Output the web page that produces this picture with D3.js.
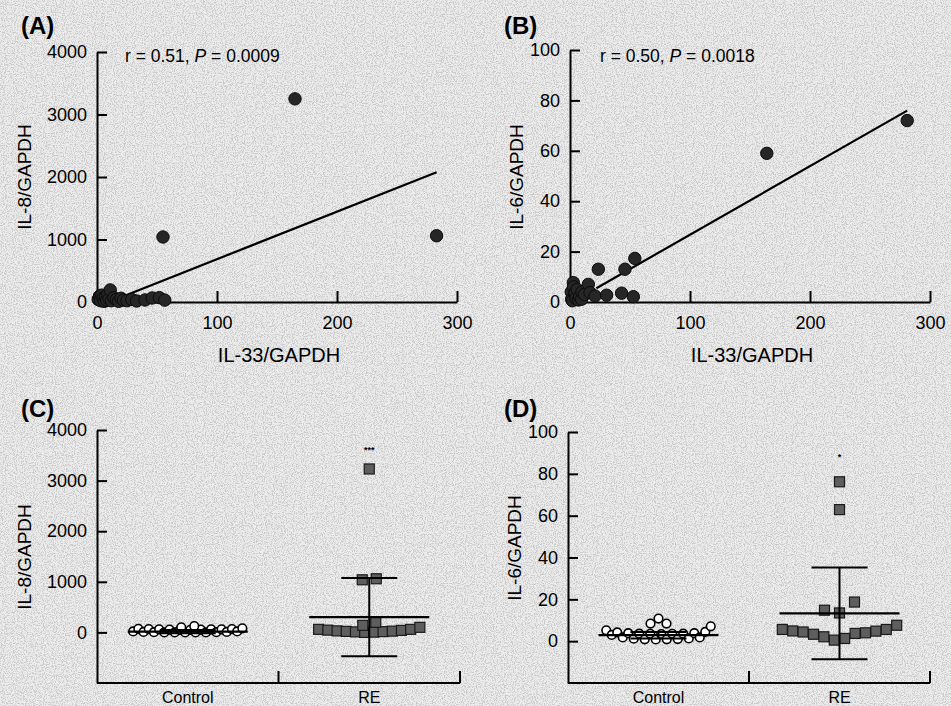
<!DOCTYPE html>
<html><head><meta charset="utf-8">
<script src="https://cdn.jsdelivr.net/npm/d3@7/dist/d3.min.js"></script>
<style>
html,body{margin:0;padding:0;background:#e8e8e8;}
svg{display:block;font-family:"Liberation Sans",Arial,sans-serif;}
</style></head>
<body>
<script>
// ---------- DATA ----------
// Panel A: IL-33/GAPDH vs IL-8/GAPDH
const aX = [1, 2, 2.5, 3, 4, 5, 6, 7, 8, 9, 10, 11, 12, 14, 16, 18, 20, 22, 25, 29, 33, 40, 46, 52, 56.5, 55, 165, 283];
const aY = [40, 90, 96, 20, 110, 60, 10, 80, 30, 120, 50, 193, 20, 70, 40, 10, 60, 30, 20, 40, 16, 32, 64, 70, 30, 1040, 3250, 1060];
const aFit = {slope: 7.6, intercept: -75, from: 20, to: 283};
const aText = {r: "0.51", p: "0.0009"};
// Panel B: IL-33/GAPDH vs IL-6/GAPDH
const bX = [1, 1.4, 2, 2.8, 3, 4, 4.2, 5, 6, 7, 8, 9.7, 10, 12, 15.3, 16.7, 20.8, 23.6, 30.5, 43, 45.8, 52.8, 54, 164, 281];
const bY = [4, 1.1, 0.5, 7.7, 6, 3, 3.7, 1.5, 5, 0.8, 2, 1.1, 4, 3, 7, 3.7, 2.4, 13, 2.7, 3.5, 13, 2.1, 17.3, 59, 72];
const bFit = {slope: 0.272, intercept: -0.5, from: 22, to: 281};
const bText = {r: "0.50", p: "0.0018"};
// Panel C: IL-8/GAPDH by group (rows of points, left to right)
const groups = ["Control", "RE"];
const cControlRows = [[20, 70, 10, 65, 5, 60, 0, 55, 0, 50, 0, 50, 0, 55, 0, 60, 5, 60, 10, 65, 20, 80], [100, 125]];
const cRERows = [[60, 45, 30, 20, 10, 0, 5, 15, 25, 40, 60, 100], [140, 200], [1040, 1060], [3230]];
const cMean = [15, 302];
const cSD = [30, 775];
const cSig = ["", "***"];
// Panel D: IL-6/GAPDH by group
const dControlRows = [[5.2, 3.0, 4.2, 1.8, 3.8, 1.2, 3.6, 0.9, 3.5, 0.8, 3.4, 0.9, 3.5, 1.0, 3.6, 1.3, 3.8, 1.8, 4.4, 7.1], [8.4, 10.8, 8.4]];
const dRERows = [[5.6, 4.9, 4.4, 3.3, 2.1, 0.5, 1.3, 3.7, 4.0, 4.8, 5.6, 7.6], [14.8, 13.5, 18.7], [62.9], [76.2]];
const dMean = [2.85, 13.3];
const dSD = [1.55, 21.9];
const dSig = ["", "*"];
// Tick labels
const abXTicks = [0, 100, 200, 300];
const aYTicks = [0, 1000, 2000, 3000, 4000];
const bYTicks = [0, 20, 40, 60, 80, 100];
const cYTicks = [0, 1000, 2000, 3000, 4000];
const dYTicks = [0, 20, 40, 60, 80, 100];

// ---------- DRAW ----------
const W = 951, H = 706;
const svg = d3.select("body").append("svg").attr("width", W).attr("height", H);
const defs = svg.append("defs");
const f = defs.append("filter").attr("id", "noise").attr("x", 0).attr("y", 0).attr("width", "100%").attr("height", "100%");
f.append("feTurbulence").attr("type", "fractalNoise").attr("baseFrequency", 0.9).attr("numOctaves", 2).attr("seed", 4);
f.append("feColorMatrix").attr("type", "matrix")
  .attr("values", "0 0 0 0 0.35  0 0 0 0 0.35  0 0 0 0 0.35  -5 0 0 0 2.7");
svg.append("rect").attr("width", W).attr("height", H).attr("fill", "#ececec");
svg.append("rect").attr("width", W).attr("height", H).attr("filter", "url(#noise)").attr("opacity", 0.45);

const FS_TICK = 18, FS_TITLE = 19;

function styleAxis(g) {
  g.selectAll("path, line").attr("stroke", "#000").attr("stroke-width", 2);
  g.selectAll("text").attr("font-size", FS_TICK).attr("fill", "#000")
    .attr("font-family", '"Liberation Sans", Arial, sans-serif');
}
function panelLabel(t, x, y) {
  svg.append("text").attr("x", x).attr("y", y).attr("font-size", 24).attr("font-weight", "bold").text(t);
}
function yTitle(t, x, y) {
  svg.append("text").attr("transform", `translate(${x},${y}) rotate(-90)`).attr("text-anchor", "middle")
    .attr("dy", "0.35em").attr("font-size", FS_TITLE).text(t);
}

function scatterPanel(o) {
  const x = d3.scaleLinear().domain([0, 300]).range([o.x0, o.x1]);
  const y = d3.scaleLinear().domain([0, o.yMax]).range([o.y0, o.y1]);
  const g = svg.append("g");
  g.append("g").attr("transform", `translate(0,${o.y0})`)
    .call(d3.axisBottom(x).tickValues(abXTicks).tickSizeInner(-11).tickSizeOuter(0).tickPadding(14).tickFormat(d3.format("d")))
    .call(styleAxis);
  g.append("g").attr("transform", `translate(${o.x0},0)`)
    .call(d3.axisLeft(y).tickValues(o.yTicks).tickSizeInner(-10).tickSizeOuter(0).tickPadding(10).tickFormat(d3.format("d")))
    .call(styleAxis);
  g.append("line")
    .attr("x1", x(o.fit.from)).attr("y1", y(o.fit.slope * o.fit.from + o.fit.intercept))
    .attr("x2", x(o.fit.to)).attr("y2", y(o.fit.slope * o.fit.to + o.fit.intercept))
    .attr("stroke", "#000").attr("stroke-width", 2.2);
  g.selectAll("circle.pt").data(d3.range(o.xs.length)).join("circle").attr("class", "pt")
    .attr("cx", i => x(o.xs[i])).attr("cy", i => y(o.ys[i])).attr("r", 6.2)
    .attr("fill", "#262626").attr("stroke", "#0a0a0a").attr("stroke-width", 1);
  const t = g.append("text").attr("x", o.tx).attr("y", o.ty).attr("font-size", 17.5);
  t.append("tspan").text(`r = ${o.txt.r}, `);
  t.append("tspan").attr("font-style", "italic").text("P");
  t.append("tspan").text(` = ${o.txt.p}`);
  g.append("text").attr("x", (o.x0 + o.x1) / 2 + 2).attr("y", 362).attr("text-anchor", "middle")
    .attr("font-size", FS_TITLE + 1).text("IL-33/GAPDH");
}

scatterPanel({x0: 97, x1: 457, y0: 302, y1: 52, yMax: 4000, yTicks: aYTicks, xs: aX, ys: aY, fit: aFit, txt: aText, tx: 125, ty: 62});
scatterPanel({x0: 570, x1: 930, y0: 302, y1: 50, yMax: 100, yTicks: bYTicks, xs: bX, ys: bY, fit: bFit, txt: bText, tx: 600, ty: 62});
panelLabel("(A)", 21, 34);
panelLabel("(B)", 504, 34);
yTitle("IL-8/GAPDH", 24, 177);
yTitle("IL-6/GAPDH", 516, 177);

function dotPanel(o) {
  const x = d3.scaleBand().domain(groups).range([o.x0, o.x1]).padding(0);
  const y = d3.scaleLinear().domain(o.yDom).range([o.yb, o.yt]);
  const g = svg.append("g");
  const bw = x.bandwidth();
  g.append("g").attr("transform", `translate(${o.x0},0)`)
    .call(d3.axisLeft(y).tickValues(o.yTicks).tickSizeInner(-10).tickSizeOuter(0).tickPadding(10).tickFormat(d3.format("d")))
    .call(styleAxis);
  g.append("line").attr("x1", o.x0).attr("x2", o.x1).attr("y1", o.yb).attr("y2", o.yb)
    .attr("stroke", "#000").attr("stroke-width", 2);
  groups.forEach(c => {
    g.append("line").attr("x1", x(c) + bw).attr("x2", x(c) + bw).attr("y1", o.yb).attr("y2", o.yb - 12)
      .attr("stroke", "#000").attr("stroke-width", 2);
    g.append("text").attr("x", x(c) + bw / 2).attr("y", 703).attr("text-anchor", "middle")
      .attr("font-size", 16).text(c);
  });
  const rowsets = [o.ctrlRows, o.reRows];
  groups.forEach((c, gi) => {
    const cx = x(c) + bw / 2;
    const m = o.mean[gi], s = o.sd[gi];
    const eb = g.append("g").attr("stroke", "#000");
    eb.append("line").attr("x1", cx).attr("x2", cx).attr("y1", y(m - s)).attr("y2", y(m + s)).attr("stroke-width", 2);
    [m - s, m + s].forEach(v => eb.append("line").attr("x1", cx - 28).attr("x2", cx + 28)
      .attr("y1", y(v)).attr("y2", y(v)).attr("stroke-width", 2));
    rowsets[gi].forEach((row, ri) => {
      const sp = o.spacing[gi][ri];
      row.forEach((v, i) => {
        const px = cx + (i - (row.length - 1) / 2) * sp;
        if (gi === 0) {
          g.append("circle").attr("cx", px).attr("cy", y(v)).attr("r", 4.3)
            .attr("fill", "#fff").attr("stroke", "#000").attr("stroke-width", 1.6);
        } else {
          g.append("rect").attr("x", px - 5).attr("y", y(v) - 5).attr("width", 10).attr("height", 10)
            .attr("fill", "#5e5e5e").attr("stroke", "#1a1a1a").attr("stroke-width", 1.2);
        }
      });
    });
    eb.raise();
    g.append("line").attr("x1", cx - 60).attr("x2", cx + 60).attr("y1", y(m)).attr("y2", y(m))
      .attr("stroke", "#000").attr("stroke-width", 2.2);
    if (o.sig[gi]) {
      g.append("text").attr("x", cx).attr("y", o.sigY).attr("text-anchor", "middle")
        .attr("font-size", 9).attr("font-weight", "bold").text(o.sig[gi]);
    }
  });
}

dotPanel({x0: 97, x1: 460, yb: 683, yt: 430, yDom: [-1000, 4000], yTicks: cYTicks,
  ctrlRows: cControlRows, reRows: cRERows, mean: cMean, sd: cSD, sig: cSig, sigY: 453,
  spacing: [[5.2, 13], [9.2, 13, 14, 0]]});
dotPanel({x0: 568, x1: 930, yb: 683, yt: 432, yDom: [-20, 100], yTicks: dYTicks,
  ctrlRows: dControlRows, reRows: dRERows, mean: dMean, sd: dSD, sig: dSig, sigY: 460,
  spacing: [[5.5, 8], [10.4, 15, 0, 0]]});
panelLabel("(C)", 21, 417);
panelLabel("(D)", 504, 417);
yTitle("IL-8/GAPDH", 24, 557);
yTitle("IL-6/GAPDH", 514, 548);
</script>
</body></html>
